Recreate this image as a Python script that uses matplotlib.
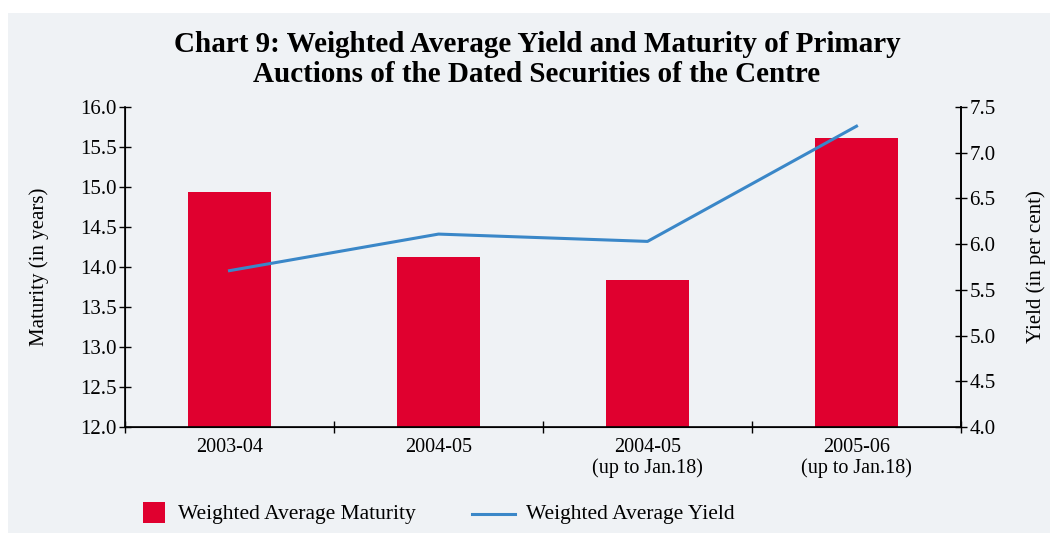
import matplotlib
matplotlib.use("Agg")
import matplotlib.pyplot as plt
from matplotlib.patches import Rectangle
from matplotlib.lines import Line2D

categories = ["2003-04", "2004-05", "2004-05\n(up to Jan.18)", "2005-06\n(up to Jan.18)"]
maturity = [14.94, 14.12, 13.84, 15.61]
yield_pct = [5.71, 6.11, 6.03, 7.29]
left_ticks = [12.0, 12.5, 13.0, 13.5, 14.0, 14.5, 15.0, 15.5, 16.0]
right_ticks = [4.0, 4.5, 5.0, 5.5, 6.0, 6.5, 7.0, 7.5]
legend_labels = ["Weighted Average Maturity", "Weighted Average Yield"]

plt.rcParams['font.family'] = ['Liberation Serif', 'DejaVu Serif']
BG = "#eff2f5"
RED = "#e0002f"
BLUE = "#3a87c8"

fig = plt.figure(figsize=(10.5, 5.33), dpi=100)
fig.patch.set_facecolor("white")
W, H = 1050, 533
fig.patches.append(Rectangle((8 / W, 0), 1 - 8 / W, 1 - 13 / H, transform=fig.transFigure,
                             facecolor=BG, edgecolor="none", zorder=-10))

ax = fig.add_axes([125 / W, 1 - 427 / H, (961 - 125) / W, (427 - 107) / H])
ax.patch.set_alpha(0)
x = list(range(len(categories)))
ax.bar(x, maturity, width=0.4, color=RED, zorder=2)
ax.set_xlim(-0.5, len(categories) - 0.5)
ax.set_ylim(12.0, 16.0)
ax.set_yticks(left_ticks)
ax.set_yticklabels([f"{v:.1f}" for v in left_ticks], fontsize=15)
ax.set_xticks(x)
ax.set_xticklabels(categories, fontsize=14.5, linespacing=1.1)
ax.tick_params(axis='x', length=0, pad=8)
ax.set_xticks([i + 0.5 for i in range(-1, len(categories))], minor=True)
ax.tick_params(axis='x', which='minor', direction='inout', length=8, width=1)
ax.tick_params(axis='y', direction='inout', length=8, width=1, pad=2)
ax.spines['top'].set_visible(False)
for s in ['left', 'right', 'bottom']:
    ax.spines[s].set_linewidth(1.2)
ax.set_ylabel("Maturity (in years)", fontsize=15, labelpad=22)

ax2 = ax.twinx()
ax2.plot(x, yield_pct, color=BLUE, lw=2.2, zorder=3)
ax2.set_ylim(4.0, 7.5)
ax2.set_yticks(right_ticks)
ax2.set_yticklabels([f"{v:.1f}" for v in right_ticks], fontsize=15)
ax2.tick_params(axis='y', direction='inout', length=8, width=1, pad=2)
ax2.spines['top'].set_visible(False)
ax2.spines['right'].set_linewidth(1.2)
ax2.set_ylabel("Yield (in per cent)", fontsize=15, labelpad=22)

fig.text(537 / W, 1 - 44 / H, "Chart 9: Weighted Average Yield and Maturity of Primary",
         ha='center', va='center', fontsize=21, fontweight='bold')
fig.text(537 / W, 1 - 75 / H, "Auctions of the Dated Securities of the Centre",
         ha='center', va='center', fontsize=21, fontweight='bold')

# legend (figure coordinates)
fig.patches.append(Rectangle((143 / W, 1 - 523 / H), 22 / W, 21 / H, transform=fig.transFigure,
                             facecolor=RED, edgecolor="none"))
fig.lines.append(Line2D([472 / W, 515 / W], [1 - 514 / H, 1 - 514 / H], transform=fig.transFigure,
                        color=BLUE, lw=2.2))
fig.text(178 / W, 1 - 514 / H, legend_labels[0], ha='left', va='center', fontsize=15.5)
fig.text(526 / W, 1 - 514 / H, legend_labels[1], ha='left', va='center', fontsize=15.5)

fig.savefig("out.png", dpi=100, facecolor=fig.get_facecolor())
